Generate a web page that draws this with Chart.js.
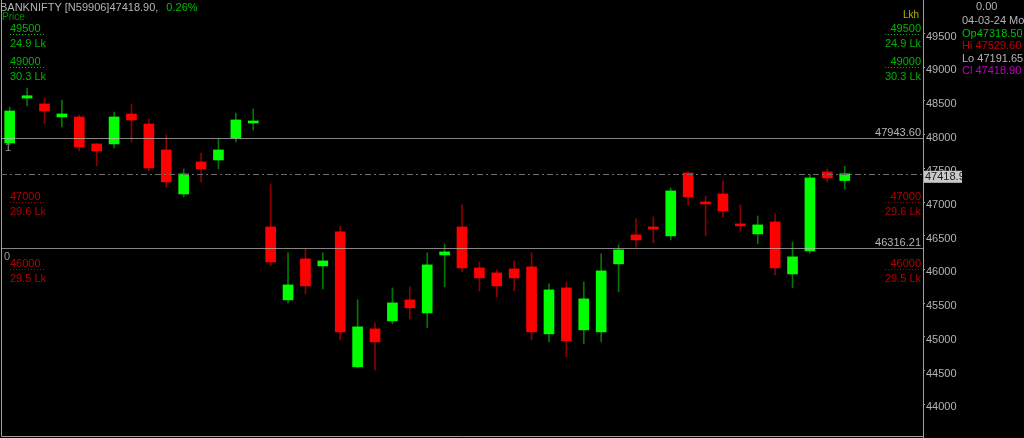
<!DOCTYPE html>
<html>
<head>
<meta charset="utf-8">
<title>BANKNIFTY</title>
<script src="https://cdn.jsdelivr.net/npm/chart.js@4.4.1/dist/chart.umd.min.js"></script>
<style>
  html, body { margin: 0; padding: 0; background: #000; overflow: hidden; }
  #wrap { position: relative; width: 1024px; height: 438px; }
</style>
</head>
<body>
<div id="wrap"><canvas id="chart"></canvas></div>
<script>
// --- DATA: daily candles, last one is 04-03-24 ---
const opens  = [47877, 48542, 48455, 48262, 48262, 47862, 47862, 48306, 48158, 47773,
                47120, 47595, 47624, 47951, 48173, 46631, 45549, 46157, 46053, 46557,
                44556, 45119, 45237, 45549, 45356, 46216, 46631, 46023, 45949, 46008,
                46038, 45045, 45727, 45104, 45074, 46083, 46513, 46631, 46498, 47432,
                47002, 47120, 46676, 46527, 46705, 45934, 46275, 47447, 47318.50];
const highs  = [48410, 48692, 48544, 48514, 48292, 47867, 48336, 48455, 48232, 47995,
                47491, 47728, 47936, 48321, 48381, 47269, 46246, 46305, 46246, 46646,
                45549, 45208, 45727, 45742, 46246, 46379, 46957, 46112, 45994, 46127,
                46246, 45786, 45816, 45816, 46231, 46364, 46750, 46779, 47209, 47447,
                47091, 47313, 46957, 46794, 46824, 46409, 47402, 47491, 47529.60];
const lows   = [47847, 48425, 48158, 48114, 47758, 47536, 47802, 47891, 47461, 47224,
                47076, 47298, 47491, 47891, 48069, 46053, 45504, 45638, 45712, 44956,
                44540, 44511, 45193, 45267, 45134, 45742, 45964, 45682, 45593, 45682,
                44956, 44926, 44704, 44896, 44926, 45667, 46335, 46394, 46438, 46957,
                46498, 46779, 46572, 46379, 45919, 45727, 46240, 47298, 47191.65];
const closes = [48351, 48577, 48351, 48307, 47817, 47758, 48262, 48217, 47506, 47298,
                47417, 47491, 47773, 48218, 48203, 46112, 45771, 45756, 46127, 45074,
                45149, 44926, 45504, 45430, 46068, 46261, 46023, 45875, 45756, 45875,
                45074, 45697, 44941, 45564, 45979, 46290, 46438, 46601, 47165, 47076,
                46972, 46868, 46646, 46661, 46023, 46187, 47358, 47358, 47418.90];
const EMPTY_SLOTS = 4;          // free room right of the last candle
const yTicks = [44000, 44500, 45000, 45500, 46000, 46500, 47000, 47500, 48000, 48500, 49000, 49500];
const hLines = [47943.60, 46316.21];
const volLevels = [49500, 49000, 47000, 46000];
const volLabels = ['24.9 Lk', '30.3 Lk', '29.6 Lk', '29.5 Lk'];
const volUp = [true, true, false, false];
const changePct = 0.26;
const lastDate = '04-03-24 Mon';

// --- COLOURS / FONT ---
const FONT = '"Liberation Sans", Arial, sans-serif';
const GREY = '#b4b4b4';
const UP = '#00ff00', DOWN = '#ff0000';
const UP_WICK = '#007800', DOWN_WICK = '#8c0000';
const TXT_UP = '#00b400', TXT_DOWN = '#b40000';

const days = Array.from({ length: opens.length + EMPTY_SLOTS }, (_, i) => i + 1);
const isUp = closes.map((c, i) => c >= opens[i]);
const last = closes.length - 1;

// --- OVERLAY: levels, price box, header, OHLC panel ---
const overlay = {
    id: 'overlay',
    afterDatasetsDraw(chart) {
        const { ctx, chartArea: a, scales: { y } } = chart;
        ctx.save();
        ctx.font = '11px ' + FONT;
        ctx.textBaseline = 'middle';

        // frame left + bottom
        ctx.strokeStyle = '#a0a0a0';
        ctx.lineWidth = 1;
        ctx.beginPath();
        ctx.moveTo(a.left + 0.5, a.top); ctx.lineTo(a.left + 0.5, a.bottom - 0.5);
        ctx.lineTo(a.right, a.bottom - 0.5);
        ctx.stroke();

        // support / resistance lines
        hLines.forEach(v => {
            const py = Math.round(y.getPixelForValue(v)) + 0.5;
            ctx.strokeStyle = 'rgba(190,190,190,0.7)';
            ctx.beginPath(); ctx.moveTo(a.left, py); ctx.lineTo(a.right, py); ctx.stroke();
            ctx.fillStyle = GREY;
            ctx.textAlign = 'right';
            ctx.fillText(v.toFixed(2), a.right - 2, py - 6);
        });

        // last close dash-dot line
        const cy = Math.round(y.getPixelForValue(closes[last])) + 0.5;
        ctx.strokeStyle = '#6a6a6a';
        ctx.setLineDash([6, 3, 2, 3]);
        ctx.beginPath(); ctx.moveTo(a.left, cy); ctx.lineTo(a.right, cy); ctx.stroke();
        ctx.setLineDash([]);

        // volume-at-price labels, left and right
        volLevels.forEach((v, i) => {
            const py = Math.round(y.getPixelForValue(v)) + 0.5;
            const col = volUp[i] ? TXT_UP : TXT_DOWN;
            ctx.fillStyle = col;
            ctx.strokeStyle = col;
            ctx.setLineDash([1, 2]);
            [[10, 'left'], [a.right - 2, 'right']].forEach(([x, al]) => {
                ctx.textAlign = al;
                ctx.fillText(String(v), x, py - 6);
                ctx.fillText(volLabels[i], x, py + 9);
                const w = ctx.measureText(volLabels[i]).width;
                const x0 = al === 'left' ? x : x - w;
                ctx.beginPath(); ctx.moveTo(x0, py); ctx.lineTo(x0 + w, py); ctx.stroke();
            });
            ctx.setLineDash([]);
        });

        // small markers
        ctx.fillStyle = '#9a9a9a';
        ctx.textAlign = 'left';
        ctx.fillText('1', 5, 148);
        ctx.fillText('0', 4, 257);
        ctx.font = '10px ' + FONT;
        ctx.fillStyle = '#008c00';
        ctx.fillText('Price', 2, 17);
        ctx.fillStyle = '#b4b400';
        ctx.fillText('Lkh', 903, 15);
        ctx.restore();
    },
    afterDraw(chart) {
        const { ctx, chartArea: a, scales: { y } } = chart;
        ctx.save();
        ctx.font = '11px ' + FONT;
        ctx.textBaseline = 'middle';
        ctx.textAlign = 'left';

        // last price box on the axis
        const by = y.getPixelForValue(closes[last]) + 3;
        ctx.fillStyle = '#c8c8c8';
        ctx.fillRect(a.right + 1, by - 6, 38, 12);
        ctx.save();
        ctx.beginPath(); ctx.rect(a.right + 1, by - 6, 38, 12); ctx.clip();
        ctx.fillStyle = '#1a1a1a';
        ctx.fillText(closes[last].toFixed(2), a.right + 2, by + 0.5);
        ctx.restore();

        // header
        const head = 'BANKNIFTY [N59906]' + closes[last].toFixed(2) + ',';
        ctx.fillStyle = GREY;
        ctx.fillText(head, 0, 8);
        ctx.fillStyle = '#00c000';
        ctx.fillText(changePct.toFixed(2) + '%', ctx.measureText(head).width + 8, 8);

        // OHLC panel
        const px = 962;
        ctx.fillStyle = GREY;
        ctx.fillText('0.00', 976, 7);
        ctx.fillText(lastDate, px, 21);
        ctx.fillStyle = '#00c000';
        ctx.fillText('Op' + opens[last].toFixed(2), px, 34);
        ctx.fillStyle = '#c00000';
        ctx.fillText('Hi ' + highs[last].toFixed(2), px, 46);
        ctx.fillStyle = GREY;
        ctx.fillText('Lo ' + lows[last].toFixed(2), px, 59);
        ctx.fillStyle = '#c000c0';
        ctx.fillText('Cl ' + closes[last].toFixed(2), px, 71);
        ctx.restore();
    }
};

new Chart(document.getElementById('chart'), {
    type: 'bar',
    data: {
        labels: days,
        datasets: [
            {
                label: 'Body',
                data: opens.map((o, i) => [o, closes[i]]),
                backgroundColor: isUp.map(u => u ? UP : DOWN),
                barThickness: 10,
                minBarLength: 2,
                grouped: false,
                order: 0
            },
            {
                label: 'Wick',
                data: lows.map((l, i) => [l, highs[i]]),
                backgroundColor: isUp.map(u => u ? UP_WICK : DOWN_WICK),
                barThickness: 1,
                grouped: false,
                order: 1
            }
        ]
    },
    options: {
        responsive: true,
        maintainAspectRatio: false,
        animation: false,
        layout: { padding: { left: 1, top: 0, right: 0, bottom: 1 } },
        plugins: { legend: { display: false }, tooltip: { enabled: false } },
        scales: {
            x: {
                type: 'category',
                display: false,
                offset: true,
                grid: { display: false }
            },
            y: {
                position: 'right',
                min: 43515,
                max: 49997,
                afterBuildTicks: s => { s.ticks = yTicks.map(v => ({ value: v })); },
                afterFit: s => { s.width = 101; s.paddingTop = 0; s.paddingBottom = 0; },
                border: { color: '#a0a0a0', width: 1 },
                grid: { drawOnChartArea: false, color: '#a0a0a0', tickLength: 2 },
                ticks: {
                    color: GREY,
                    font: { family: FONT, size: 11 },
                    padding: 1,
                    labelOffset: 3,
                    callback: v => String(v)
                }
            }
        }
    },
    plugins: [overlay]
});
</script>
</body>
</html>
